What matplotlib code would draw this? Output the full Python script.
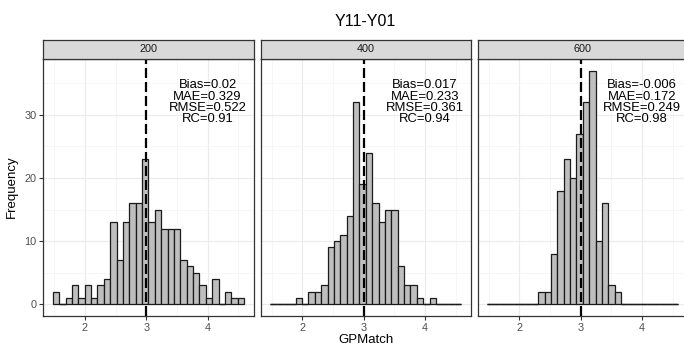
import matplotlib
matplotlib.use("Agg")
import numpy as np
import matplotlib.pyplot as plt

plt.rcParams['font.family'] = ['Liberation Sans', 'DejaVu Sans']

# histogram counts per panel (30 shared bins)
bin_start = 1.477
bin_width = 0.1039
panels = ["200", "400", "600"]
counts_200 = [2, 0, 1, 3, 1, 3, 1, 3, 4, 13, 7, 13, 16, 16, 23,
              13, 15, 12, 12, 12, 7, 6, 5, 3, 1, 4, 0, 2, 1, 1]
counts_400 = [0, 0, 0, 0, 1, 0, 2, 2, 3, 9, 10, 11, 14, 32, 19,
              24, 16, 13, 15, 15, 6, 3, 3, 1, 0, 1, 0, 0, 0, 0]
counts_600 = [0, 0, 0, 0, 0, 0, 0, 0, 2, 2, 8, 18, 23, 20, 27,
              32, 37, 10, 16, 3, 2, 0, 0, 0, 0, 0, 0, 0, 0, 0]
all_counts = [counts_200, counts_400, counts_600]
stats = [
    "Bias=0.02\nMAE=0.329\nRMSE=0.522\nRC=0.91",
    "Bias=0.017\nMAE=0.233\nRMSE=0.361\nRC=0.94",
    "Bias=-0.006\nMAE=0.172\nRMSE=0.249\nRC=0.98",
]
true_value = 3
x_ticks = [2, 3, 4]
y_ticks = [0, 10, 20, 30]

W, H = 684, 350
fig = plt.figure(figsize=(W / 100, H / 100), dpi=100)

lefts = [43.3, 260.7, 477.7]
pw = 210.3
top, bottom = 59, 316
strip_top = 40

edges = bin_start + bin_width * np.arange(31)
lo = edges[0] - 0.05 * (edges[-1] - edges[0])
hi = edges[-1] + 0.05 * (edges[-1] - edges[0])
ymax = max(max(c) for c in all_counts)

for i, (lab, counts, txt) in enumerate(zip(panels, all_counts, stats)):
    x0 = lefts[i]
    ax = fig.add_axes([x0 / W, 1 - bottom / H, pw / W, (bottom - top) / H])
    ax.bar(edges[:-1], counts, width=bin_width, align='edge',
           color='#BEBEBE', edgecolor='#1A1A1A', linewidth=0.9, zorder=2)
    # empty bins still show their outline as a line along zero
    zero = np.array(counts) == 0
    ax.hlines(np.zeros(zero.sum()), edges[:-1][zero], edges[1:][zero],
              color='#1A1A1A', lw=1.0, zorder=2)
    ax.axvline(true_value, color='black', lw=1.6, ls=(0, (4.5, 1.8)), zorder=3)
    ax.text(4, 32, txt, ha='center', va='center', fontsize=9.4,
            linespacing=0.92, color='black', zorder=4)
    ax.set_xlim(lo, hi)
    ax.set_ylim(-0.05 * ymax, ymax * 1.05)
    ax.set_xticks(x_ticks)
    ax.set_xticks([1.5, 2.5, 3.5, 4.5], minor=True)
    ax.set_yticks(y_ticks)
    ax.set_yticks([5, 15, 25, 35], minor=True)
    ax.grid(which='major', color='#EBEBEB', lw=0.8, zorder=0)
    ax.grid(which='minor', color='#F3F3F3', lw=0.5, zorder=0)
    ax.set_axisbelow(True)
    for s in ax.spines.values():
        s.set_color('#333333')
        s.set_linewidth(0.9)
    ax.tick_params(which='major', length=3, width=0.8, color='#333333',
                   labelsize=7.8, labelcolor='#4D4D4D', pad=2)
    ax.tick_params(which='minor', length=0)
    if i > 0:
        ax.tick_params(axis='y', length=0, labelleft=False)

    sax = fig.add_axes([x0 / W, 1 - top / H, pw / W, (top - strip_top) / H])
    sax.set_facecolor('#D9D9D9')
    sax.set_xticks([])
    sax.set_yticks([])
    for s in sax.spines.values():
        s.set_color('#333333')
        s.set_linewidth(0.9)
    sax.text(0.5, 0.5, lab, ha='center', va='center', fontsize=7.8,
             color='#1A1A1A', transform=sax.transAxes)

cx = (lefts[0] + lefts[2] + pw) / 2 / W
fig.text(cx, 1 - 22 / H, "Y11-Y01", ha='center', va='center', fontsize=11.5)
fig.text(cx, 1 + 4 / H, "GMM", ha='center', va='center', fontsize=10, color='#AAAAAA')
fig.text(12 / W, 1 - 187 / H, "Frequency", rotation=90, ha='center', va='center', fontsize=9.5)
fig.text(cx, 1 - 340 / H, "GPMatch", ha='center', va='center', fontsize=9.5)

fig.savefig("out.png", dpi=100)
